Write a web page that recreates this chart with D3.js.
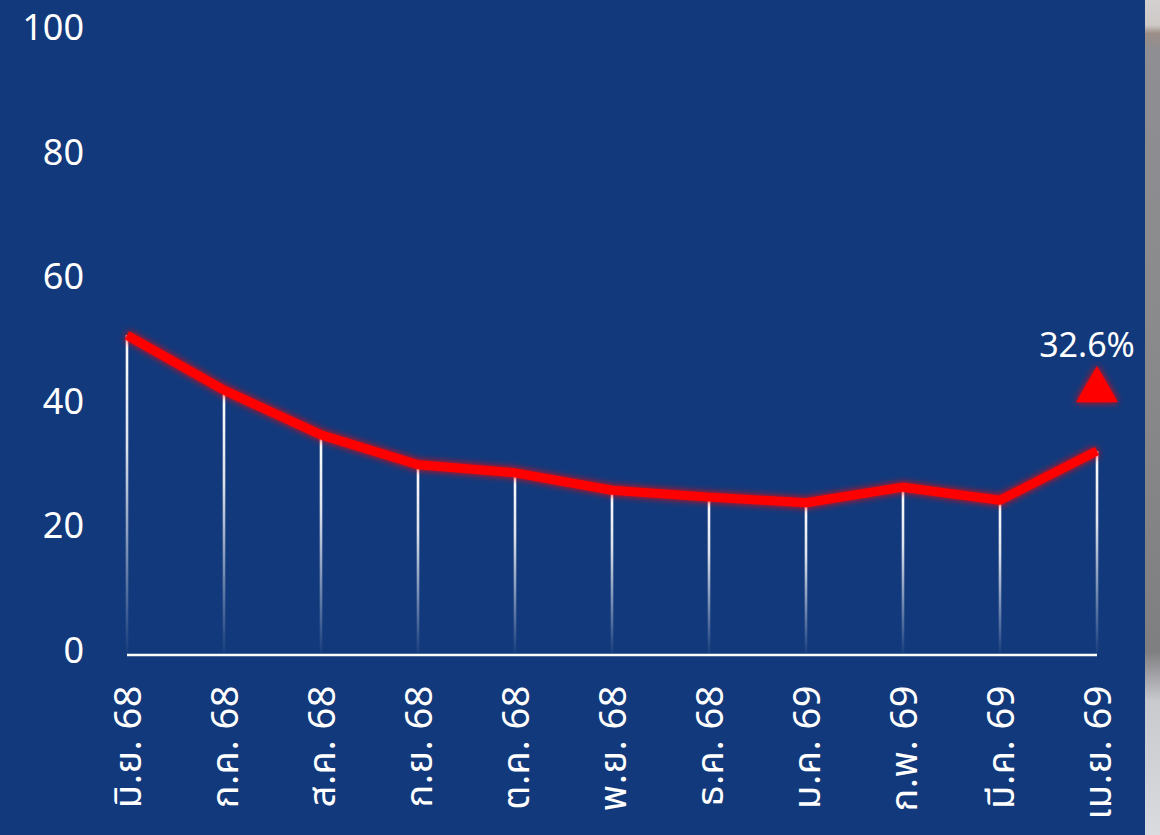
<!DOCTYPE html>
<html>
<head>
<meta charset="utf-8">
<script src="https://cdn.jsdelivr.net/npm/d3@7"></script>
<style>
  html, body { margin: 0; padding: 0; background: #12397b; }
  svg { display: block; }
  text { font-family: "Noto Sans", "Noto Sans Thai", "Open Sans", sans-serif; }
</style>
</head>
<body>
<svg id="chart" width="1160" height="835"></svg>
<script>
const months = ["มิ.ย. 68", "ก.ค. 68", "ส.ค. 68", "ก.ย. 68", "ต.ค. 68", "พ.ย. 68", "ธ.ค. 68", "ม.ค. 69", "ก.พ. 69", "มี.ค. 69", "เม.ย. 69"];
const values = [51.2, 42.4, 35.2, 30.4, 29.1, 26.3, 25.2, 24.3, 26.8, 24.7, 32.6];
const yTicks = [0, 20, 40, 60, 80, 100];
const lastLabel = "32.6%";

const svg = d3.select("#chart");
const W = 1160, H = 835;

const defs = svg.append("defs");
const glow = defs.append("filter").attr("id", "glow")
  .attr("x", "-20%").attr("y", "-50%").attr("width", "140%").attr("height", "200%");
glow.append("feGaussianBlur").attr("in", "SourceGraphic").attr("stdDeviation", 3.5).attr("result", "b");
const m = glow.append("feMerge");
m.append("feMergeNode").attr("in", "b");
m.append("feMergeNode").attr("in", "SourceGraphic");

const drop = defs.append("linearGradient").attr("id", "drop")
  .attr("x1", 0).attr("y1", 0).attr("x2", 0).attr("y2", 1);
drop.append("stop").attr("offset", "0%").attr("stop-color", "#ffffff").attr("stop-opacity", 1);
drop.append("stop").attr("offset", "35%").attr("stop-color", "#ffffff").attr("stop-opacity", 0.85);
drop.append("stop").attr("offset", "100%").attr("stop-color", "#ffffff").attr("stop-opacity", 0.02);

const side = defs.append("linearGradient").attr("id", "side")
  .attr("x1", 0).attr("y1", 0).attr("x2", 0).attr("y2", 1);
[["0%", "#d3d0d0"], ["3%", "#cfc9c6"], ["4%", "#9b8e88"], ["6%", "#8f8e92"], ["40%", "#8a898c"], ["78%", "#7f7f82"], ["84%", "#c9cace"], ["100%", "#d9dbdf"]]
  .forEach(([o, c]) => side.append("stop").attr("offset", o).attr("stop-color", c));

// background
svg.append("rect").attr("width", W).attr("height", H).attr("fill", "#12397b");
svg.append("rect").attr("x", 1145).attr("y", 0).attr("width", 15).attr("height", H).attr("fill", "url(#side)");

const x = d3.scalePoint().domain(months).range([127, 1097]);
const y = d3.scaleLinear().domain([0, 100]).range([654, 31.5]);

// y tick labels
const yAxis = svg.append("g").attr("transform", "translate(84,0)")
  .call(d3.axisLeft(y).tickValues(yTicks).tickSize(0).tickPadding(0));
yAxis.select(".domain").remove();
yAxis.selectAll("text")
  .attr("fill", "#ffffff").attr("font-size", 36).attr("dy", "0.34em")
  .attr("transform", "translate(0,-4)");

// drop lines
svg.append("g").selectAll("rect").data(values).join("rect")
  .attr("x", (d, i) => x(months[i]) - 1.3)
  .attr("y", d => y(d))
  .attr("width", 2.6)
  .attr("height", d => y(0) - y(d))
  .attr("fill", "url(#drop)");

// x axis line
svg.append("line")
  .attr("x1", x(months[0])).attr("x2", x(months[months.length - 1]))
  .attr("y1", y(0) + 1).attr("y2", y(0) + 1)
  .attr("stroke", "#ffffff").attr("stroke-width", 2.5);

// red line
const line = d3.line().x((d, i) => x(months[i])).y(d => y(d));
svg.append("path").datum(values)
  .attr("d", line)
  .attr("fill", "none")
  .attr("stroke", "#ff0000")
  .attr("stroke-width", 9)
  .attr("stroke-linejoin", "round")
  .attr("filter", "url(#glow)");

// x labels
const xAxis = svg.append("g").attr("transform", `translate(0,${y(0)})`)
  .call(d3.axisBottom(x).tickSize(0).tickPadding(0));
xAxis.select(".domain").remove();
xAxis.selectAll("text")
  .attr("fill", "#ffffff").attr("font-size", 38)
  .attr("letter-spacing", 0.5)
  .attr("text-anchor", "end")
  .attr("transform", "translate(0,31) rotate(-90)")
  .attr("x", 0).attr("y", 0).attr("dy", "0.36em");

// annotation
const lx = x(months[months.length - 1]);
const ly = y(values[values.length - 1]);
svg.append("path")
  .attr("d", d3.symbol().type(d3.symbolTriangle).size(760))
  .attr("transform", `translate(${lx},${ly - 61})`)
  .attr("fill", "#ff0000").attr("filter", "url(#glow)");
svg.append("text")
  .attr("x", lx - 10).attr("y", ly - 94)
  .attr("text-anchor", "middle")
  .attr("fill", "#ffffff").attr("font-size", 34)
  .text(lastLabel);
</script>
</body>
</html>
